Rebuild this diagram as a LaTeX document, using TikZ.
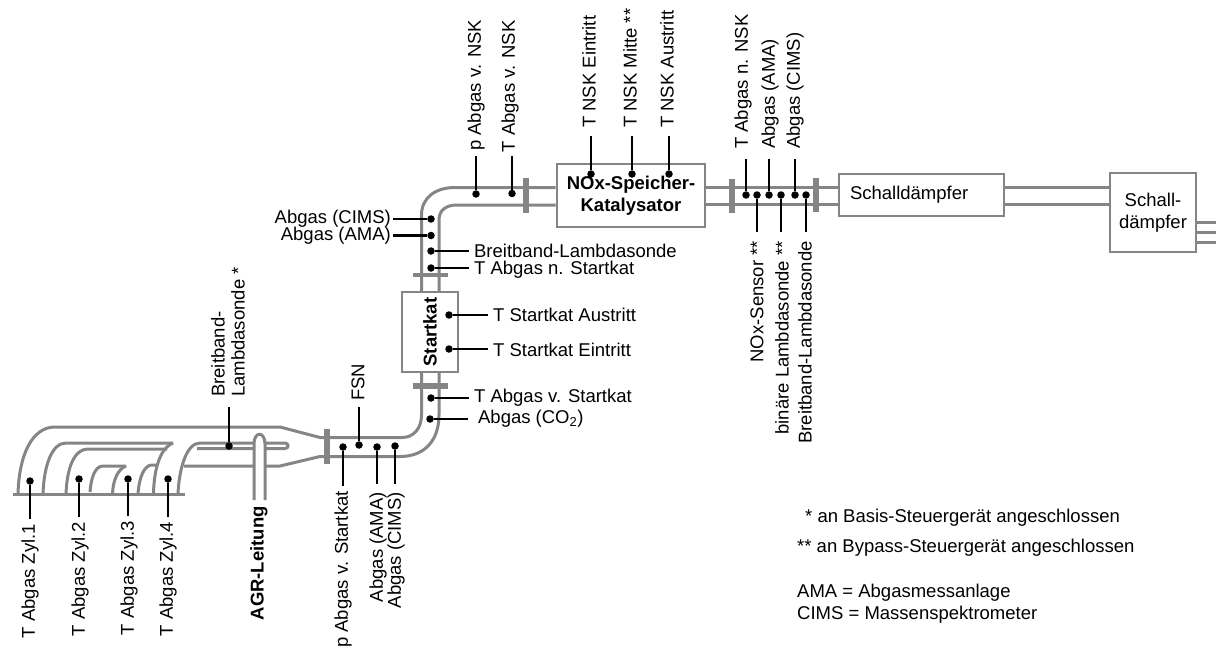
\documentclass[tikz,border=0pt]{standalone}
\usepackage{fontspec}
\setmainfont{Liberation Sans}
\usetikzlibrary{positioning}
\definecolor{pipegray}{RGB}{133,133,133}

\begin{document}
\begin{tikzpicture}[
  x=1pt, y=-1pt,
  every node/.style={font=\fontsize{18.5}{22}\selectfont},
  pipe/.style={draw=pipegray, line width=3pt},
  flange/.style={draw=pipegray, line width=5.5pt},
  comp/.style={draw=pipegray, line width=2.6pt, fill=white, align=center, inner sep=0pt},
  sensor/.style={circle, fill=black, inner sep=0pt, minimum size=7.5pt},
  lbl/.style={inner sep=5pt, align=left},
  lead/.style={line width=2.2pt},
  note/.style={anchor=west, inner sep=0pt, align=left}
]
\useasboundingbox (0,0) rectangle (1216,648);

% Kaesten
\node[comp, minimum width=56pt, minimum height=80pt] (startkat) at (430,332) {};
\node[comp, minimum width=148pt, minimum height=63pt] (nsk) at (631,195.5) {\textbf{NOx-Speicher-}\\\textbf{Katalysator}};
\node[comp, minimum width=165pt, minimum height=42pt, text width=143pt, align=left] (sd1) at (921.5,195) {Schalldämpfer};
\node[comp, minimum width=86pt, minimum height=79pt] (sd2) at (1153,212.5) {Schall-\\dämpfer};
\node[font=\fontsize{18.5}{22}\selectfont\bfseries, rotate=90, inner sep=0pt] (startkatl) at (430,332) {Startkat};

% Rohre
\draw[pipe] (13,494) -- (185,494);
\draw[pipe] (18,494) .. controls (19,455) and (32,427) .. (55,427) -- (280,427) -- (320,437.5) -- (402,437.5) .. controls (414,437.5) and (421.5,428) .. (421.5,415) -- (421.5,372);
\draw[pipe] (184,466) -- (280,466) -- (320,456.5) -- (400,456.5) .. controls (425,456.5) and (439,440) .. (439,415) -- (439,372);
\draw[pipe] (178,494) .. controls (179,470) and (186,443) .. (200,443) -- (285,443) .. controls (289,443) and (289,448.5) .. (285,448.5) -- (197,448.5);
\draw[pipe] (43,494) .. controls (44,465) and (52,443) .. (66,443) -- (173,443);
\draw[pipe] (173,443) .. controls (162,447) and (154,465) .. (153.5,494);
\draw[pipe] (66,494) .. controls (67,468) and (74,449) .. (88,449) -- (167,449);
\draw[pipe] (90,492) .. controls (91,478) and (95,466) .. (103,466) -- (126,466);
\draw[pipe] (126,466) .. controls (118,469) and (113,480) .. (112.5,494);
\draw[pipe] (138,494) .. controls (139,478) and (144,465) .. (152,465) -- (157,465);
\draw[pipe, fill=white] (254,500) -- (254,444) .. controls (254,431) and (265,431) .. (265,444) -- (265,500);
\draw[pipe] (421.5,291) -- (421.5,215) .. controls (421.5,198) and (435,187.5) .. (455,187.5) -- (nsk.west |- 0,187.5);
\draw[pipe] (439,291) -- (439,220) .. controls (439,211) and (445,205) .. (457,205) -- (nsk.west |- 0,205);
\draw[pipe] (nsk.east |- 0,187.5) -- (sd1.west |- 0,187.5);
\draw[pipe] (nsk.east |- 0,204) -- (sd1.west |- 0,204);
\draw[pipe] (sd1.east |- 0,187.5) -- (sd2.west |- 0,187.5);
\draw[pipe] (sd1.east |- 0,204) -- (sd2.west |- 0,204);
\draw[pipe] (sd2.east |- 0,222) -- (1216,222);
\draw[pipe] (sd2.east |- 0,232) -- (1216,232);
\draw[pipe] (sd2.east |- 0,242) -- (1216,242);

% Flansche
\draw[flange] (327,429) -- (327,464);
\draw[flange] (413,386) -- (448,386);
\draw[flange, line width=4pt] (413,275) -- (448,275);
\draw[flange] (526,178) -- (526,213);
\draw[flange] (732,179) -- (732,213);
\draw[flange] (816,178) -- (816,212);

% Messstellen
\node[sensor] (zyl1) at (30,481) {};
\node[lbl, rotate=90, below=34pt of zyl1, anchor=east] (zyl1l) {T Abgas Zyl.1};
\node[sensor] (zyl2) at (79,479) {};
\node[lbl, xshift=1pt, rotate=90, below=34pt of zyl2, anchor=east] (zyl2l) {T Abgas Zyl.2};
\node[sensor] (zyl3) at (128,479) {};
\node[lbl, xshift=1pt, rotate=90, below=33pt of zyl3, anchor=east] (zyl3l) {T Abgas Zyl.3};
\node[sensor] (zyl4) at (168,479) {};
\node[lbl, rotate=90, below=34pt of zyl4, anchor=east] (zyl4l) {T Abgas Zyl.4};
\node[sensor] (lam) at (229,446) {};
\node[lbl, xshift=-1pt, rotate=90, above=35pt of lam, anchor=west, inner xsep=10pt, font=\fontsize{18.5}{20}\selectfont] (laml) {Breitband-\\Lambdasonde *};
\node[sensor] (fsn) at (359,445) {};
\node[lbl, xshift=-1pt, rotate=90, above=34pt of fsn, anchor=west, inner xsep=6pt] (fsnl) {FSN};
\node[sensor] (pvs) at (343,447) {};
\node[lbl, rotate=90, below=35pt of pvs, anchor=east] (pvsl) {p Abgas v. Startkat};
\node[sensor] (ama1) at (377,447) {};
\node[lbl, xshift=1pt, rotate=90, below=33pt of ama1, anchor=east, inner xsep=8pt] (ama1l) {Abgas (AMA)};
\node[sensor] (cims1) at (395,446) {};
\node[lbl, xshift=1pt, rotate=90, below=34pt of cims1, anchor=east, inner xsep=8pt] (cims1l) {Abgas (CIMS)};

\node[sensor] (co2) at (430,419) {};
\node[lbl, right=39pt of co2, anchor=west] (co2l) {Abgas (CO\textsubscript{2})};
\node[sensor] (tvs) at (431,398) {};
\node[lbl, right=34pt of tvs, anchor=west] (tvsl) {T Abgas v. Startkat};
\node[sensor] (tein) at (449,349) {};
\node[lbl, right=35pt of tein, anchor=west, yshift=-1pt] (teinl) {T Startkat Eintritt};
\node[sensor] (taus) at (449,315) {};
\node[lbl, right=35pt of taus, anchor=west] (tausl) {T Startkat Austritt};
\node[sensor] (tns) at (431,268) {};
\node[lbl, right=34pt of tns, anchor=west, yshift=-2pt] (tnsl) {T Abgas n. Startkat};
\node[sensor] (lam2) at (431,251) {};
\node[lbl, right=34pt of lam2, anchor=west] (lam2l) {Breitband-Lambdasonde};
\node[sensor] (ama2) at (431,235.5) {};
\node[lbl, left=34pt of ama2, anchor=east, inner xsep=2pt] (ama2l) {Abgas (AMA)};
\node[sensor] (cims2) at (431,219) {};
\node[lbl, left=34pt of cims2, anchor=east, inner xsep=2pt] (cims2l) {Abgas (CIMS)};

\node[sensor] (pvn) at (476,194) {};
\node[lbl, rotate=90, above=34pt of pvn, anchor=west] (pvnl) {p Abgas v. NSK};
\node[sensor] (tvn) at (512,193.5) {};
\node[lbl, xshift=-2pt, rotate=90, above=34pt of tvn, anchor=west, inner xsep=3pt] (tvnl) {T Abgas v. NSK};
\node[sensor] (tnsk1) at (591,174) {};
\node[lbl, xshift=-2pt, rotate=90, above=34pt of tnsk1, anchor=west, inner xsep=8pt] (tnsk1l) {T NSK Eintritt};
\node[sensor] (tnsk2) at (632,174) {};
\node[lbl, xshift=-2pt, rotate=90, above=34pt of tnsk2, anchor=west, inner xsep=8pt] (tnsk2l) {T NSK Mitte **};
\node[sensor] (tnsk3) at (669,174) {};
\node[lbl, xshift=-2pt, rotate=90, above=34pt of tnsk3, anchor=west, inner xsep=8pt] (tnsk3l) {T NSK Austritt};

\node[sensor] (tnn) at (746,195) {};
\node[lbl, xshift=-3pt, rotate=90, above=32pt of tnn, anchor=west, inner xsep=10pt] (tnnl) {T Abgas n. NSK};
\node[sensor] (ama3) at (769,195) {};
\node[lbl, xshift=1pt, rotate=90, above=32pt of ama3, anchor=west, inner xsep=10pt] (ama3l) {Abgas (AMA)};
\node[sensor] (cims3) at (795,195) {};
\node[lbl, rotate=90, above=32pt of cims3, anchor=west, inner xsep=10pt] (cims3l) {Abgas (CIMS)};
\node[sensor] (nox) at (757,195) {};
\node[lbl, rotate=90, below=33pt of nox, anchor=east, inner xsep=9pt] (noxl) {NOx-Sensor **};
\node[sensor] (bin) at (781,195) {};
\node[lbl, xshift=1pt, rotate=90, below=33pt of bin, anchor=east, inner xsep=9pt] (binl) {binäre Lambdasonde **};
\node[sensor] (lam3) at (806,195) {};
\node[lbl, xshift=-1pt, rotate=90, below=33pt of lam3, anchor=east, inner xsep=9pt] (lam3l) {Breitband-Lambdasonde};

\node[font=\fontsize{18.5}{22}\selectfont\bfseries, rotate=90, anchor=east, inner sep=0pt] (agr) at (259,506) {AGR-Leitung};

\draw[lead] (zyl1) -- (zyl1 |- zyl1l.east);
\draw[lead] (zyl2) -- (zyl2 |- zyl2l.east);
\draw[lead] (zyl3) -- (zyl3 |- zyl3l.east);
\draw[lead] (zyl4) -- (zyl4 |- zyl4l.east);
\draw[lead] (lam) -- (lam |- laml.west);
\draw[lead] (fsn) -- (fsn |- fsnl.west);
\draw[lead] (pvs) -- (pvs |- pvsl.east);
\draw[lead] (ama1) -- (ama1 |- ama1l.east);
\draw[lead] (cims1) -- (cims1 |- cims1l.east);
\draw[lead] (co2) -- ++(38,0);
\draw[lead] (tvs) -- (tvsl);
\draw[lead] (tein) -- (tein -| teinl.west);
\draw[lead] (taus) -- (tausl);
\draw[lead] (tns) -- (tns -| tnsl.west);
\draw[lead] (lam2) -- (lam2l);
\draw[lead] (ama2) -- (ama2l);
\draw[lead] (cims2) -- (cims2l);
\draw[lead] (pvn) -- (pvnl);
\draw[lead] (tvn) -- (tvn |- tvnl.west);
\draw[lead] (tnsk1) -- (tnsk1 |- tnsk1l.west);
\draw[lead] (tnsk2) -- (tnsk2 |- tnsk2l.west);
\draw[lead] (tnsk3) -- (tnsk3 |- tnsk3l.west);
\draw[lead] (tnn) -- (tnn |- tnnl.west);
\draw[lead] (ama3) -- (ama3 |- ama3l.west);
\draw[lead] (cims3) -- (cims3l);
\draw[lead] (nox) -- (noxl);
\draw[lead] (bin) -- (bin |- binl.east);
\draw[lead] (lam3) -- (lam3 |- lam3l.east);

% Fussnoten
\node[note] (n1) at (805,518) {* an Basis-Steuergerät angeschlossen};
\node[note] (n2) at (797,548) {** an Bypass-Steuergerät angeschlossen};
\node[note] (n3) at (797,593) {AMA = Abgasmessanlage};
\node[note] (n4) at (797,615) {CIMS = Massenspektrometer};
\end{tikzpicture}
\end{document}
